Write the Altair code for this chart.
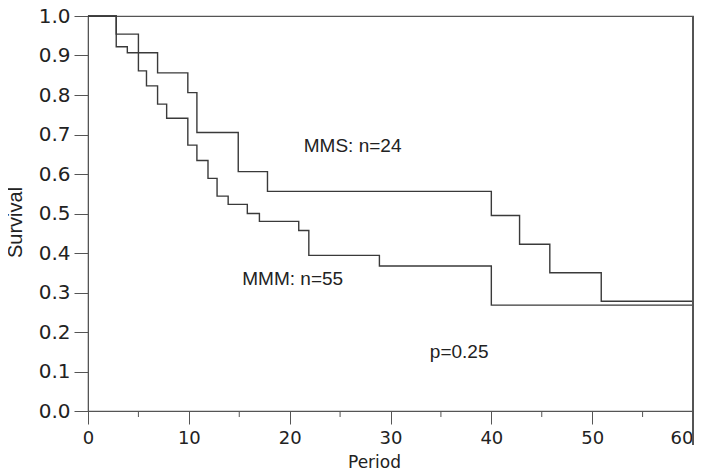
import altair as alt
import pandas as pd

# MMS: n=24 (upper curve)
mms_time = [0, 2.8, 3.9, 6.9, 9.9, 10.8, 14.9, 17.8, 40.0, 42.8, 45.8, 50.9, 60]
mms_surv = [1.0, 0.922, 0.907, 0.856, 0.806, 0.705, 0.606, 0.556, 0.495, 0.422, 0.350, 0.278, 0.278]

# MMM: n=55 (lower curve)
mmm_time = [0, 2.8, 5.0, 5.8, 6.9, 7.8, 9.9, 10.8, 11.9, 12.8, 13.9, 15.8, 17.0, 20.9, 21.9, 28.9, 40.0, 60]
mmm_surv = [1.0, 0.954, 0.861, 0.823, 0.777, 0.741, 0.673, 0.634, 0.589, 0.544, 0.523, 0.500, 0.480, 0.457, 0.394, 0.367, 0.268, 0.266]

label_text = ["MMS: n=24", "MMM: n=55", "p=0.25"]
label_time = [21.4, 15.3, 33.9]
label_surv = [0.656, 0.318, 0.133]

x_ticks = [0, 10, 20, 30, 40, 50, 60]
x_minor = [5, 15, 25, 35, 45, 55]
y_ticks = [0.0, 0.1, 0.2, 0.3, 0.4, 0.5, 0.6, 0.7, 0.8, 0.9, 1.0]

curves = pd.DataFrame(
    [{"group": "MMS", "t": t, "s": s} for t, s in zip(mms_time, mms_surv)]
    + [{"group": "MMM", "t": t, "s": s} for t, s in zip(mmm_time, mmm_surv)]
)
labels = pd.DataFrame({"text": label_text, "t": label_time, "s": label_surv})
minor = pd.DataFrame({"t": x_minor})

W, H = 605, 395
FONT = "Liberation Sans"
AXFONT = "DejaVu Sans"
LINE = "#3a3a3a"
AX = "#555555"

xscale = alt.Scale(domain=[0, 60], nice=False, zero=False)
yscale = alt.Scale(domain=[0, 1], nice=False)

xaxis = alt.Axis(
    values=x_ticks, title="Period", grid=False, tickSize=13, labelPadding=5,
    domainColor=AX, tickColor=AX, labelFont=AXFONT, labelFontSize=18, labelColor="#222",
    labelAlign=alt.condition("datum.value == 60", alt.value("right"), alt.value("center")),
    titleFont=AXFONT, titleFontSize=17, titleFontWeight="normal", titleColor="#222",
    titleX=286, titleY=56, titleBaseline="alphabetic", titleAlign="center",
    labelFlush=False, labelOverlap=False,
)
yaxis = alt.Axis(
    values=y_ticks, format=".1f", title="Survival", grid=False, tickSize=14, labelPadding=4,
    domainColor=AX, tickColor=AX, labelFont=AXFONT, labelFontSize=20, labelColor="#222",
    titleFont=FONT, titleFontSize=20, titleFontWeight="normal", titleColor="#222",
    titleAngle=270, titleX=-67, titleY=206, titleBaseline="alphabetic", titleAlign="center",
    labelFlush=False, labelOverlap=False,
)

lines = alt.Chart(curves).mark_line(interpolate="step-after", color=LINE, strokeWidth=1.4).encode(
    x=alt.X("t:Q", scale=xscale, axis=xaxis),
    y=alt.Y("s:Q", scale=yscale, axis=yaxis),
    detail="group:N",
)

texts = alt.Chart(labels).mark_text(
    align="left", baseline="alphabetic", font=FONT, fontSize=19, color="#222"
).encode(
    x=alt.X("t:Q", scale=xscale, axis=xaxis),
    y=alt.Y("s:Q", scale=yscale, axis=yaxis),
    text="text:N",
)

minor_ticks = alt.Chart(minor).mark_rule(color=AX, strokeWidth=1).encode(
    x=alt.X("t:Q", scale=xscale, axis=xaxis), y=alt.value(H), y2=alt.value(H + 6)
)

right_edge = alt.Chart(minor).mark_rule(color=AX, strokeWidth=1.2).encode(
    x=alt.value(W), y=alt.value(0), y2=alt.value(H + 34)
)

chart = alt.layer(lines, texts, minor_ticks, right_edge).properties(
    width=W, height=H,
    autosize=alt.AutoSizeParams(type="none"),
    padding={"left": 80, "top": 8, "right": 1, "bottom": 64},
    background="white",
).configure_view(stroke=AX, strokeWidth=1.2)

chart.save("out.html", embed_options={"renderer": "svg", "actions": False})
